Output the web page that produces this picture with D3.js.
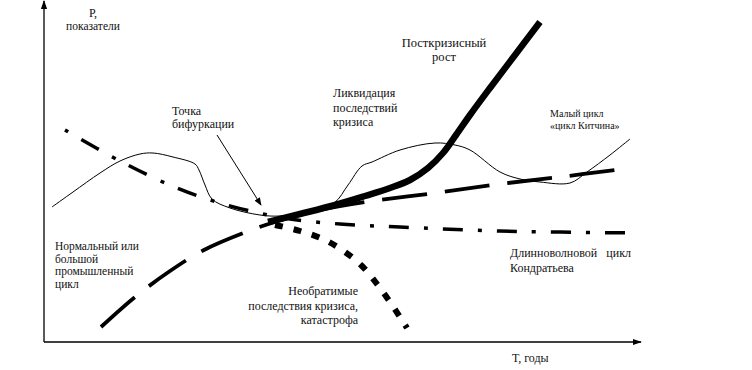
<!DOCTYPE html>
<html><head><meta charset="utf-8">
<script src="https://cdn.jsdelivr.net/npm/d3@7"></script>
<style>
html,body{margin:0;padding:0;background:#fff;}
</style></head>
<body><svg id="c" width="752" height="370"></svg>
<script>
// Conceptual curves: T (time) and P (indicators)
const normalT  = [8,29,56,76,96,109,129,151,155,161,168,186,216,236,261,290,304,318,328,356,391,411,426,456,476,496,526,543,566,586];
const normalP  = [135,150,169,181,188,189,185,178,172,157,143,134,127,126,130,139,157,176,180,192,199,197,192,170,163,160,159,170,187,203];
const growthT  = [224,256,291,321,346,366,384,399,412,426,446,471,496];
const growthP  = [120,128,137,146,154,162,174,189,207,227,254,287,320];
const kondT    = [21,76,128,166,206,246,296,356,456,596];
const kondP    = [212,181,156,142,131,123,118,115,111,109];
const risingT  = [57,91,126,160,202,231,276,321,391,456,516,571];
const risingP  = [15,45,71,92,110,120,132,140,149,158,165,172];
const catastT  = [231,256,281,301,318,333,346,363];
const catastP  = [117,111,102,90,76,58,40,14];
const arrowT   = [173,217];
const arrowP   = [207,137];
const yAxisLabel = ["Р,", "показатели"];
const xAxisLabel = "Т, годы";
const labelBifurcation = ["Точка", "бифуркации"];
const labelGrowth = ["Посткризисный", "рост"];
const labelLiquidation = ["Ликвидация", "последствий", "кризиса"];
const labelKitchin = ["Малый цикл", "«цикл Китчина»"];
const labelNormal = ["Нормальный или", "большой", "промышленный", "цикл"];
const labelCatastrophe = ["Необратимые", "последствия кризиса,", "катастрофа"];
const labelKondratiev = ["Длинноволновой   цикл", "Кондратьева"];

const FONT = "Liberation Serif, Times New Roman, Tinos, DejaVu Serif, Noto Serif, serif";
const svg = d3.select("#c");
const x = d3.scaleLinear().domain([0, 596]).range([44, 640]);
const y = d3.scaleLinear().domain([0, 340]).range([342, 2]);

const defs = svg.append("defs");
defs.append("marker").attr("id","ah").attr("viewBox","0 0 10 10").attr("refX",9).attr("refY",5)
  .attr("markerWidth",8).attr("markerHeight",8).attr("orient","auto").attr("markerUnits","userSpaceOnUse")
  .append("path").attr("d","M0,1 L10,5 L0,9 Z").attr("fill","#000");
defs.append("marker").attr("id","ah2").attr("viewBox","0 0 10 10").attr("refX",9).attr("refY",5)
  .attr("markerWidth",9).attr("markerHeight",9).attr("orient","auto").attr("markerUnits","userSpaceOnUse")
  .append("path").attr("d","M0,1.5 L10,5 L0,8.5 Z").attr("fill","#000");

// axes
svg.append("line").attr("x1",x(0)).attr("y1",y(0)).attr("x2",x(0)).attr("y2",y(340)-1)
  .attr("stroke","#000").attr("stroke-width",1.3).attr("marker-end","url(#ah2)");
svg.append("line").attr("x1",x(0)).attr("y1",y(0)).attr("x2",x(597)).attr("y2",y(0))
  .attr("stroke","#000").attr("stroke-width",1.3).attr("marker-end","url(#ah2)");

const zip = (a,b) => a.map((v,i)=>[v,b[i]]);
const lineGen = c => d3.line().x(d=>x(d[0])).y(d=>y(d[1])).curve(c);

// thin cycle curve
svg.append("path").attr("d", lineGen(d3.curveCatmullRom.alpha(0.5))(zip(normalT,normalP)))
  .attr("fill","none").attr("stroke","#000").attr("stroke-width",1);
// Kondratiev dash-dot
svg.append("path").attr("d", lineGen(d3.curveCatmullRom.alpha(0.5))(zip(kondT,kondP)))
  .attr("fill","none").attr("stroke","#000").attr("stroke-width",3.5)
  .attr("stroke-dasharray","4,15,20,15");
// rising long dash
svg.append("path").attr("d", lineGen(d3.curveCatmullRom.alpha(0.5))(zip(risingT,risingP)))
  .attr("fill","none").attr("stroke","#000").attr("stroke-width",3.8)
  .attr("stroke-dasharray","45,18");
// catastrophe thick dotted
svg.append("path").attr("d", lineGen(d3.curveCatmullRom.alpha(0.5))(zip(catastT,catastP)))
  .attr("fill","none").attr("stroke","#000").attr("stroke-width",6)
  .attr("stroke-dasharray","8,11");
// post-crisis growth thick line
svg.append("path").attr("d", lineGen(d3.curveCatmullRom.alpha(0.5))(zip(growthT,growthP)))
  .attr("fill","none").attr("stroke","#000").attr("stroke-width",6.5);
// bifurcation arrow
svg.append("line").attr("x1",x(arrowT[0])).attr("y1",y(arrowP[0])).attr("x2",x(arrowT[1])).attr("y2",y(arrowP[1]))
  .attr("stroke","#000").attr("stroke-width",1).attr("marker-end","url(#ah)");

function block(lines, px, py, size, gap, anchor){
  const t = svg.append("text").attr("font-size",size).style("font-family",FONT)
    .attr("fill","#111").attr("text-anchor",anchor||"start").style("white-space","pre");
  lines.forEach((s,i)=>t.append("tspan").attr("x",px).attr("y",py+i*gap).text(s));
}
block([yAxisLabel[0]], 93, 17, 12, 0, "middle");
block([yAxisLabel[1]], 93, 30, 11.5, 0, "middle");
block(labelBifurcation, 172, 115, 12, 12.5);
block(labelGrowth, 444, 47, 12.5, 14, "middle");
block(labelLiquidation, 333, 97, 12, 14.5);
block(labelKitchin, 550, 117, 10, 12);
block(labelNormal, 55, 250, 11.5, 12.5);
block(labelCatastrophe, 358, 295, 12, 14.5, "end");
block(labelKondratiev, 510, 257, 12, 15);
block([xAxisLabel], 512, 362, 12, 0);
</script></body></html>
